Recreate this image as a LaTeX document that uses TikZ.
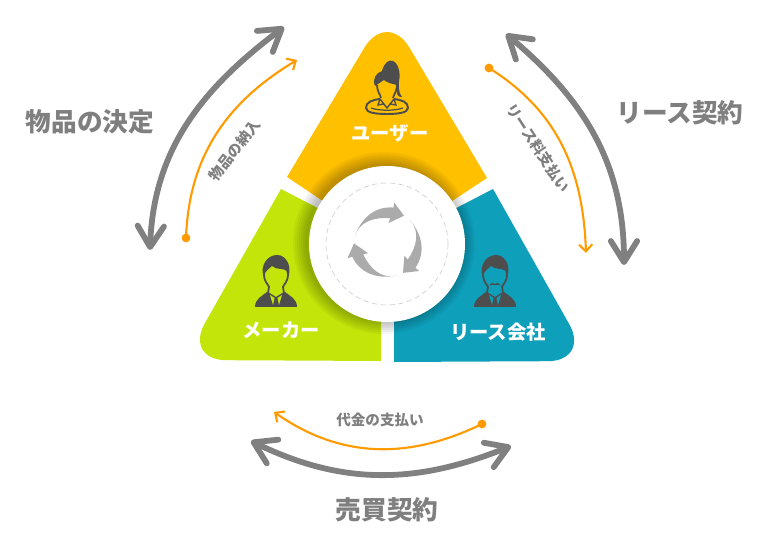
\documentclass[tikz,border=0pt]{standalone}
\usepackage{fontspec}
\setmainfont{Noto Sans CJK JP}
\usetikzlibrary{arrows.meta}
\definecolor{useryellow}{HTML}{FFC000}
\definecolor{makergreen}{HTML}{C3E50A}
\definecolor{leaseblue}{HTML}{0E9FBB}
\definecolor{icondark}{HTML}{4D4D4D}
\definecolor{textgray}{HTML}{7F7F7F}
\definecolor{linegray}{HTML}{808080}
\definecolor{lineorange}{HTML}{FF9A00}
\definecolor{cyclegray}{HTML}{ABABAB}
\tikzset{
	biglabel/.style={inner sep=0pt, text=textgray, font=\fontsize{14.6}{16}\selectfont\bfseries},
	smalllabel/.style={inner sep=0pt, text=textgray, font=\fontsize{8.3}{10}\selectfont\bfseries},
	partylabel/.style={inner sep=0pt, text=white, font=\fontsize{11}{13}\selectfont\bfseries},
	contract/.style={linegray, line width=3.3pt, line cap=round, {Straight Barb[length=12pt,width=15pt,round]}-{Straight Barb[length=12pt,width=15pt,round]}},
	payment/.style={lineorange, line width=1.2pt, -{Straight Barb[length=4pt,width=7.5pt]}},
	startdot/.style={circle, fill=lineorange, inner sep=0pt, minimum size=5pt},
	pics/manicon/.style={code={
		\fill[icondark] (-21,-25) .. controls (-21,-17) and (-14,-14) .. (-9,-10) -- (9,-10) .. controls (14,-14) and (21,-17) .. (21,-25) -- cycle;
		\filldraw[fill=#1, draw=icondark, line width=1pt] (-12,8) .. controls (-12,0) and (-8,-2) .. (-7,-5) -- (-8,-11) -- (0,-16) -- (8,-11) -- (7,-5) .. controls (8,-2) and (12,0) .. (12,8) .. controls (12,22) and (-12,22) .. (-12,8) -- cycle;
		\fill[#1] (-6,-13) -- (-1.5,-16) -- (-3,-23) -- cycle (6,-13) -- (1.5,-16) -- (3,-23) -- cycle;
		\fill[icondark] (-12.5,6) .. controls (-16,16) and (-9,27) .. (1,27) .. controls (10,27) and (16,16) .. (12.5,6) -- (11,11) .. controls (8,14) and (0,12) .. (-4,16) .. controls (-7,13) and (-10,12) .. (-12.5,6) -- cycle;
	}},
	pics/womanicon/.style={code={
		\draw[icondark, line width=1.1pt] (-7,-12) .. controls (-15,-13) and (-21,-15) .. (-21,-21) .. controls (-21,-26) and (-10,-27) .. (0,-27) .. controls (10,-27) and (21,-26) .. (21,-21) .. controls (21,-15) and (15,-13) .. (7,-12);
		\draw[icondark, line width=.7pt] (-16,-21) .. controls (-8,-24) and (8,-24) .. (16,-21);
		\draw[icondark, line width=.8pt] (-7,-12) -- (0,-21) -- (7,-12) (-7,-12) -- (-9,-18) -- (-3,-17) (7,-12) -- (9,-18) -- (3,-17);
		\draw[icondark, line width=1pt] (-10,2) .. controls (-10,-4) and (-7,-7) .. (-6,-11) (10,2) .. controls (10,-4) and (7,-7) .. (6,-11);
		\fill[icondark] (-12,1) .. controls (-15,8) and (-11,14) .. (-5,16) .. controls (-3,24) and (2,28) .. (6,26) .. controls (11,24) and (14,14) .. (12,6) .. controls (12,0) and (11,-5) .. (15,-10) .. controls (11,-11) and (8,-6) .. (10,2) .. controls (6,3) and (0,4) .. (-3,7) .. controls (-6,5) and (-9,3) .. (-12,1) -- cycle;
	}},
}
\begin{document}
\begin{tikzpicture}[x=0.02cm, y=0.02cm]
	\useasboundingbox (0,0) rectangle (768,533);

	% three parties
	\fill[useryellow] (287,356) [rounded corners=25pt] -- (387,523) [sharp corners] -- (487,355) -- (387,289) -- cycle;
	\fill[makergreen] (387,289) -- (281,344) [rounded corners=24pt] -- (184,173) [sharp corners] -- (381,172) -- (381,289) -- cycle;
	\fill[leaseblue] (394,289) -- (394,171) [rounded corners=24pt] -- (590,172) [sharp corners] -- (493,344) -- (387,289) -- cycle;

	% centre
	\foreach \r in {79,81,...,91}
		\fill[black, opacity=.04] (384,290) circle (\r);
	\node (hub) [circle, fill=white, inner sep=0pt, minimum size=156*0.02cm] at (387,289) {};
	\node (ring) [circle, draw=black!20, densely dashed, line width=.35pt, inner sep=0pt, minimum size=122*0.02cm] at (387,289) {};
	\foreach \a in {0,-120,-240}
		\fill[cyclegray, shift={(387,289)}, rotate=\a] (167:33) to[out=72, in=175] (80:37) -- (80:42) -- (59:33) -- (86:21) -- (83:26) to[out=175, in=75] (167:33) -- cycle;

	% icons
	\path (387,446) pic {womanicon};
	\path (276,251) pic {manicon=makergreen};
	\path (495,251) pic {manicon=leaseblue};
	\fill[icondark] (489,247.5) .. controls (492,251) and (494,250) .. (495,249) .. controls (496,250) and (498,251) .. (501,247.5) .. controls (498,248.5) and (492,248.5) .. (489,247.5) -- cycle;

	% parties' labels
	\node (user) [partylabel] at (390,400) {ユーザー};
	\node (maker) [partylabel] at (281,203) {メーカー};
	\node (lease) [partylabel] at (498,201) {リース会社};

	% contracts
	\coordinate (goodsa) at (150,283);
	\coordinate (goodsb) at (284,506);
	\coordinate (leasea) at (506,499);
	\coordinate (leaseb) at (624,268);
	\coordinate (salea) at (251,92);
	\coordinate (saleb) at (511,87);
	\draw[contract] (goodsa) to[out=88, in=217] (goodsb);
	\draw[contract] (leasea) to[out=-40, in=90] (leaseb);
	\draw[contract] (salea) to[out=-26, in=202] (saleb);
	\node (goodslabel) [biglabel] at (90,411) {物品の決定};
	\node (leaselabel) [biglabel] at (680,420) {リース契約};
	\node (salelabel) [biglabel] at (387,23) {売買契約};

	% payments
	\node (deliverydot) [startdot] at (186,295) {};
	\node (rentdot) [startdot] at (489,465) {};
	\node (pricedot) [startdot] at (482,109) {};
	\coordinate (deliveryend) at (297,473);
	\coordinate (rentend) at (586,280);
	\coordinate (priceend) at (274,121);
	\draw[payment] (deliverydot.center) to[out=88, in=211] (deliveryend);
	\draw[payment] (rentdot.center) to[out=-32, in=92] (rentend);
	\draw[payment] (pricedot.center) to[out=206, in=-35] (priceend);
	\node (deliverylabel) [smalllabel, rotate=52] at (235,383) {物品の納入};
	\node (rentlabel) [smalllabel, rotate=-57] at (538,385) {リース料支払い};
	\node (pricelabel) [smalllabel] at (380,113) {代金の支払い};
\end{tikzpicture}
\end{document}
